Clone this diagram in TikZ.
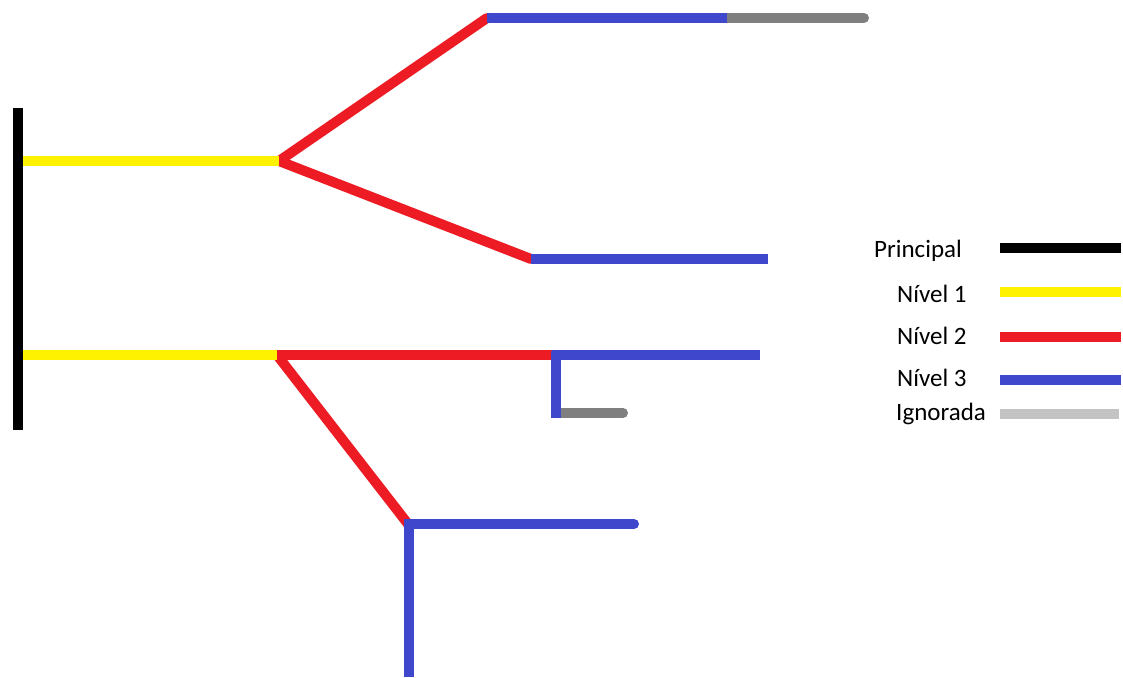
\documentclass[tikz,border=0pt]{standalone}
\usepackage{fontspec}
\setmainfont{Carlito}
\definecolor{pblack}{HTML}{000000}
\definecolor{pyellow}{HTML}{FFF200}
\definecolor{pred}{HTML}{ED1C24}
\definecolor{pblue}{HTML}{3F48CC}
\definecolor{pgray}{HTML}{7F7F7F}
\definecolor{plgray}{HTML}{C3C3C3}
\tikzset{
  seg/.style={line width=10pt},
  principal/.style={seg, draw=pblack},
  lvlone/.style={seg, draw=pyellow},
  lvltwo/.style={seg, draw=pred, line cap=round},
  lvlthree/.style={seg, draw=pblue},
  ignored/.style={seg, draw=pgray, line cap=round},
  legendline/.style={line width=10pt},
  legendtext/.style={anchor=west, font=\fontsize{25}{30}\selectfont, text=black, inner sep=0pt},
}
\begin{document}
\begin{tikzpicture}[x=1pt,y=-1pt]
\useasboundingbox (0,0) rectangle (1123,677);
% named points
\coordinate (ptop) at (18,108);
\coordinate (pbot) at (18,430);
\coordinate (y1a) at (23,161);
\coordinate (y1b) at (279,161);
\coordinate (y2a) at (23,355);
\coordinate (y2b) at (277,355);
\coordinate (r1end) at (487,18);
\coordinate (r2end) at (531,259);
\coordinate (r3end) at (552,355);
\coordinate (r4end) at (408,524);
\coordinate (b1end) at (727,18);
\coordinate (g1end) at (864,18);
\coordinate (b2end) at (768,259);
\coordinate (b3end) at (760,355);
\coordinate (b3v) at (556,351);
\coordinate (b3vend) at (556,418);
\coordinate (g2a) at (561,413);
\coordinate (g2b) at (623,413);
\coordinate (b4h) at (404,524);
\coordinate (b4end) at (633,524);
\coordinate (b4v) at (409,520);
\coordinate (b4vend) at (409,677);

% Level 2
\draw[lvltwo] (y1b) -- (r1end);
\draw[lvltwo] (y1b) -- (r2end);
\draw[lvltwo] (y2b) -- (r3end);
\draw[lvltwo] (y2b) -- (r4end);
% Level 1
\draw[lvlone] (y1a) -- (y1b);
\draw[lvlone] (y2a) -- (y2b);
% Ignored
\draw[ignored] (b1end) -- (g1end);
\draw[ignored] (g2a) -- (g2b);
% Level 3
\draw[lvlthree] (r1end) -- (b1end);
\draw[lvlthree] (r2end) -- (b2end);
\draw[lvlthree] (r3end) -- (b3end);
\draw[lvlthree] (b3v) -- (b3vend);
\draw[lvlthree] (b4h) -- (b4end);
\draw[lvlthree, line cap=round] (b4end) -- ++(1,0);
\draw[lvlthree] (b4v) -- (b4vend);
% Principal
\draw[principal] (ptop) -- (pbot);

% Legend
\node[legendtext] (tp) at (874,251) {Principal};
\node[legendtext] (t1) at (897,294) {Nível 1};
\node[legendtext] (t2) at (897,336) {Nível 2};
\node[legendtext] (t3) at (897,378) {Nível 3};
\node[legendtext] (ti) at (896,414) {Ignorada};
\coordinate (lp1) at (1000,248); \coordinate (lp2) at (1121,248);
\coordinate (l11) at (1000,292); \coordinate (l12) at (1121,292);
\coordinate (l21) at (1000,337); \coordinate (l22) at (1121,337);
\coordinate (l31) at (1000,380); \coordinate (l32) at (1121,380);
\coordinate (li1) at (1000,414); \coordinate (li2) at (1119,414);
\draw[legendline, draw=pblack] (lp1) -- (lp2);
\draw[legendline, draw=pyellow] (l11) -- (l12);
\draw[legendline, draw=pred] (l21) -- (l22);
\draw[legendline, draw=pblue] (l31) -- (l32);
\draw[legendline, draw=plgray] (li1) -- (li2);
\end{tikzpicture}
\end{document}
